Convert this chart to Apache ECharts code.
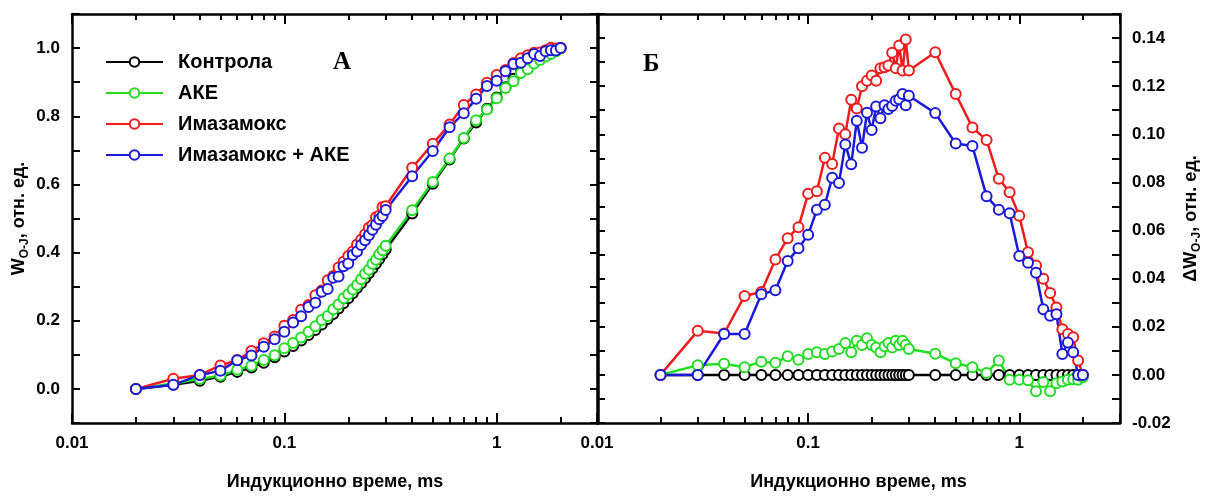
<!DOCTYPE html>
<html>
<head>
<meta charset="utf-8">
<script src="https://cdn.jsdelivr.net/npm/echarts@6/dist/echarts.min.js"></script>
<style>
  html, body { margin: 0; padding: 0; background: #fff; }
  #chart { width: 1207px; height: 500px; }
</style>
</head>
<body>
<div id="chart"></div>
<script>
// induction time, ms
const times = [0.02, 0.03, 0.04, 0.05, 0.06, 0.07, 0.08, 0.09, 0.1,
  0.11, 0.12, 0.13, 0.14, 0.15, 0.16, 0.17, 0.18, 0.19, 0.2,
  0.21, 0.22, 0.23, 0.24, 0.25, 0.26, 0.27, 0.28, 0.29, 0.3,
  0.4, 0.5, 0.6, 0.7, 0.8, 0.9, 1.0, 1.1, 1.2, 1.3, 1.4, 1.5, 1.6, 1.7, 1.8, 1.9, 2.0];

// panel A: W(O-J)
const wControl = [0, 0.012, 0.024, 0.036, 0.05, 0.063, 0.077, 0.093, 0.11,
  0.126, 0.142, 0.158, 0.173, 0.189, 0.205, 0.22, 0.236, 0.251, 0.266,
  0.281, 0.296, 0.31, 0.325, 0.339, 0.353, 0.367, 0.381, 0.395, 0.409,
  0.515, 0.602, 0.673, 0.735, 0.782, 0.822, 0.855, 0.885, 0.91, 0.93, 0.945, 0.958, 0.968, 0.977, 0.985, 0.993, 1.0];
const wAke = [0, 0.016, 0.029, 0.039, 0.056, 0.068, 0.085, 0.099, 0.119,
  0.135, 0.151, 0.168, 0.184, 0.202, 0.214, 0.234, 0.248, 0.266, 0.278,
  0.292, 0.305, 0.322, 0.338, 0.35, 0.367, 0.379, 0.395, 0.407, 0.42,
  0.524, 0.607, 0.676, 0.736, 0.788, 0.82, 0.853, 0.883, 0.903, 0.927, 0.938, 0.955, 0.965, 0.975, 0.983, 0.991, 0.999];
const wImaz = [0, 0.03, 0.041, 0.069, 0.085, 0.111, 0.134, 0.154, 0.185,
  0.202, 0.232, 0.246, 0.275, 0.289, 0.319, 0.331, 0.356, 0.373, 0.39,
  0.403, 0.424, 0.438, 0.454, 0.473, 0.481, 0.504, 0.508, 0.534, 0.536,
  0.649, 0.719, 0.776, 0.833, 0.864, 0.898, 0.921, 0.936, 0.956, 0.97, 0.979, 0.986, 0.987, 0.994, 1.001, 0.999, 1.0];
const wImazAke = [0, 0.012, 0.041, 0.053, 0.084, 0.098, 0.124, 0.146, 0.168,
  0.195, 0.213, 0.24, 0.253, 0.285, 0.293, 0.326, 0.33, 0.36, 0.368,
  0.393, 0.403, 0.422, 0.436, 0.451, 0.467, 0.482, 0.498, 0.507, 0.525,
  0.624, 0.698, 0.768, 0.809, 0.851, 0.889, 0.904, 0.932, 0.953, 0.957, 0.97, 0.983, 0.977, 0.991, 0.994, 0.993, 1.0];

// panel Б: difference from control
const dControl = [0, 0, 0, 0, 0, 0, 0, 0, 0,
  0, 0, 0, 0, 0, 0, 0, 0, 0, 0,
  0, 0, 0, 0, 0, 0, 0, 0, 0, 0,
  0, 0, 0, 0, 0, 0, 0, 0, 0, 0, 0, 0, 0, 0, 0, 0, 0];
const dAke = [0, 0.004, 0.0046, 0.0032, 0.0055, 0.005, 0.0077, 0.0063, 0.0087,
  0.0094, 0.0087, 0.0097, 0.0108, 0.0132, 0.0094, 0.0142, 0.0124, 0.0152, 0.0124,
  0.0114, 0.0094, 0.0119, 0.0132, 0.0114, 0.0142, 0.0124, 0.0142, 0.0124, 0.0108,
  0.0088, 0.0048, 0.0032, 0.0008, 0.006, -0.002, -0.002, -0.0022, -0.0068, -0.003, -0.0068, -0.0035, -0.0028, -0.002, -0.0018, -0.002, -0.001];
const dImaz = [0, 0.0183, 0.0172, 0.0328, 0.0345, 0.048, 0.0568, 0.0614, 0.0753,
  0.0763, 0.0902, 0.0877, 0.1024, 0.1, 0.1144, 0.1107, 0.12, 0.1223, 0.1244,
  0.1223, 0.1275, 0.1279, 0.1286, 0.1339, 0.1275, 0.1369, 0.1265, 0.1394, 0.1265,
  0.1341, 0.1167, 0.1028, 0.0976, 0.0815, 0.0759, 0.0661, 0.051, 0.0455, 0.04, 0.034, 0.028, 0.019, 0.017, 0.0156, 0.006, 0];
const dImazAke = [0, 0, 0.017, 0.017, 0.0335, 0.0352, 0.0473, 0.0526, 0.0582,
  0.0686, 0.0707, 0.0819, 0.0798, 0.0958, 0.0875, 0.1056, 0.0944, 0.109, 0.1018,
  0.1116, 0.1067, 0.1121, 0.1105, 0.1118, 0.1139, 0.1146, 0.1167, 0.1121, 0.116,
  0.1088, 0.0962, 0.0951, 0.0742, 0.0686, 0.0672, 0.0494, 0.0466, 0.0425, 0.0273, 0.0246, 0.0252, 0.0087, 0.0135, 0.0094, 0, 0];

const names = ['Контрола', 'АКЕ', 'Имазамокс', 'Имазамокс + АКЕ'];
const colors = ['#000000', '#22dd22', '#ee1c1c', '#1a1ad8'];

const FONT = '"Liberation Sans", Arial, sans-serif';

function pairs(ys) {
  return times.map((t, i) => [t, ys[i]]);
}

function buildOption(f) {
  function lineSeries(idx, ys, xi, yi) {
    const s = {
      name: names[idx],
      type: 'line',
      xAxisIndex: xi,
      yAxisIndex: yi,
      data: pairs(ys),
      symbol: 'emptyCircle',
      symbolSize: 10,
      lineStyle: { color: colors[idx], width: 2.5 },
      itemStyle: { color: colors[idx], borderWidth: 1.5 }
    };
    if (f.styledSeries) s.emphasis = { disabled: true };
    return s;
  }

  function logAxis(gi, pos, labels) {
    return {
      type: 'log',
      gridIndex: gi,
      position: pos,
      min: 0.01,
      max: 3,
      logBase: 10,
      axisLine: { show: true, onZero: false, lineStyle: { color: '#000', width: 2.5 } },
      axisTick: { show: true, inside: f.inside, length: 10, lineStyle: { color: '#000', width: 2 } },
      minorTick: { show: true, splitNumber: 9, length: 6, lineStyle: { color: '#000', width: 2 } },
      axisLabel: {
        show: labels, showMaxLabel: false, margin: 12,
        fontFamily: FONT, fontWeight: 'bold', fontSize: 17, color: '#000',
        formatter: v => String(v)
      },
      splitLine: { show: false },
      name: labels ? 'Индукционно време, ms' : '',
      nameLocation: 'middle',
      nameGap: 50,
      nameTextStyle: { fontFamily: FONT, fontWeight: 'bold', fontSize: 18, color: '#000' }
    };
  }

  function valAxis(gi, pos, min, max, step, digits, labels, title, plainTitle) {
    const ax = {
      type: 'value',
      gridIndex: gi,
      position: pos,
      min: min,
      max: max,
      interval: step,
      axisLine: { show: true, onZero: false, lineStyle: { color: '#000', width: 2.5 } },
      axisTick: { show: true, inside: true, length: 8, lineStyle: { color: '#000', width: 2 } },
      axisLabel: {
        show: labels, margin: 12,
        fontFamily: FONT, fontWeight: 'bold', fontSize: f.bigYLabels ? 17 : 13, color: '#000',
        formatter: v => {
          const k = Math.round(v / step);
          return (k % 2 === 0) ? v.toFixed(digits) : '';
        }
      },
      splitLine: { show: false },
      nameLocation: 'middle',
      nameRotate: 90,
      nameGap: pos === 'left' ? 40 : 62
    };
    if (f.richNames) {
      ax.name = title || '';
      ax.nameTextStyle = {
        color: '#000',
        rich: {
          w: { fontFamily: FONT, fontWeight: 'bold', fontSize: 18, lineHeight: 22, verticalAlign: 'top', color: '#000' },
          s: { fontFamily: FONT, fontWeight: 'bold', fontSize: 12, lineHeight: 14, verticalAlign: 'top', padding: [9, 0, 0, 0], color: '#000' }
        }
      };
    } else {
      ax.name = plainTitle || '';
      ax.nameTextStyle = { fontFamily: FONT, fontWeight: 'bold', fontSize: 18, color: '#000' };
    }
    return ax;
  }

  const leftBox = { left: 72, top: 14, width: 526, height: 409 };
  const rightBox = { left: 597, top: 14, width: 523, height: 409 };

  const opt = {
    animation: false,
    backgroundColor: '#ffffff',
    // grids 2 and 3 sit on top of 0 and 1 and only carry the mirrored frame axes
    grid: [leftBox, rightBox, leftBox, rightBox],
    xAxis: [
      logAxis(0, 'bottom', true),
      logAxis(1, 'bottom', true),
      logAxis(2, 'top', false),
      logAxis(3, 'top', false)
    ],
    yAxis: [
      valAxis(0, 'left', -0.1, 1.1, 0.1, 1, true, '{w|W}{s|O-J}{w|, отн. ед.}', 'WO-J, отн. ед.'),
      valAxis(1, 'right', -0.02, 0.15, 0.01, 2, true, '{w|ΔW}{s|O-J}{w|, отн. ед.}', 'ΔWO-J, отн. ед.'),
      valAxis(2, 'right', -0.1, 1.1, 0.1, 1, false, '', ''),
      valAxis(3, 'left', -0.02, 0.15, 0.01, 2, false, '', '')
    ],
    legend: f.styledLegend ? {
      data: names,
      orient: 'vertical',
      left: 100,
      top: 47,
      itemWidth: 57,
      itemHeight: 12,
      itemGap: 11,
      textStyle: { fontFamily: FONT, fontWeight: 'bold', fontSize: 20, color: '#000', padding: [0, 0, 0, 10] },
      selectedMode: false
    } : {
      data: names,
      orient: 'vertical',
      left: 100,
      top: 47,
      itemWidth: 57,
      itemHeight: 12,
      itemGap: 8,
      textStyle: { fontWeight: 'bold', fontSize: 19, color: '#000' },
      selectedMode: false
    },
    series: [
      lineSeries(0, wControl, 0, 0),
      lineSeries(1, wAke, 0, 0),
      lineSeries(2, wImaz, 0, 0),
      lineSeries(3, wImazAke, 0, 0),
      lineSeries(0, dControl, 1, 1),
      lineSeries(1, dAke, 1, 1),
      lineSeries(2, dImaz, 1, 1),
      lineSeries(3, dImazAke, 1, 1)
    ]
  };
  if (f.graphic) {
    opt.graphic = [
      { type: 'text', left: 333, top: 50, style: { text: 'А', font: 'bold 25px "Liberation Serif", serif', fill: '#000' } },
      { type: 'text', left: 643, top: 52, style: { text: 'Б', font: 'bold 25px "Liberation Serif", serif', fill: '#000' } }
    ];
  }
  return opt;
}

const full = { richNames: true, styledLegend: true, graphic: true, initOpts: true, bigYLabels: true, styledSeries: true, inside: true };
const variants = [
  {},
  { richNames: false },
  { styledLegend: false },
  { graphic: false },
  { initOpts: false },
  { bigYLabels: false },
  { styledSeries: false },
  { richNames: false, styledLegend: false, graphic: false, initOpts: false, bigYLabels: false, styledSeries: false },
  { richNames: false, styledLegend: false, graphic: false, initOpts: false, bigYLabels: false, styledSeries: false, inside: false }
].map(v => Object.assign({}, full, v));

const el = document.getElementById('chart');

// is the inward 0.1 tick of the left panel's bottom axis on the canvas?
function ticksVisible() {
  try {
    const cv = el.querySelector('canvas');
    const d = cv.getContext('2d').getImageData(276, 413, 18, 4).data;
    for (let i = 0; i < d.length; i += 4) {
      if (d[i + 3] > 150 && d[i] < 110 && d[i + 1] < 110 && d[i + 2] < 110) return true;
    }
    return false;
  } catch (e) {
    return true;
  }
}

let chart = null;
for (let i = 0; i < variants.length; i++) {
  const v = variants[i];
  if (chart) chart.dispose();
  chart = v.initOpts ? echarts.init(el, null, { renderer: 'canvas' }) : echarts.init(el);
  chart.setOption(buildOption(v));
  if (ticksVisible()) break;
}
</script>
</body>
</html>
